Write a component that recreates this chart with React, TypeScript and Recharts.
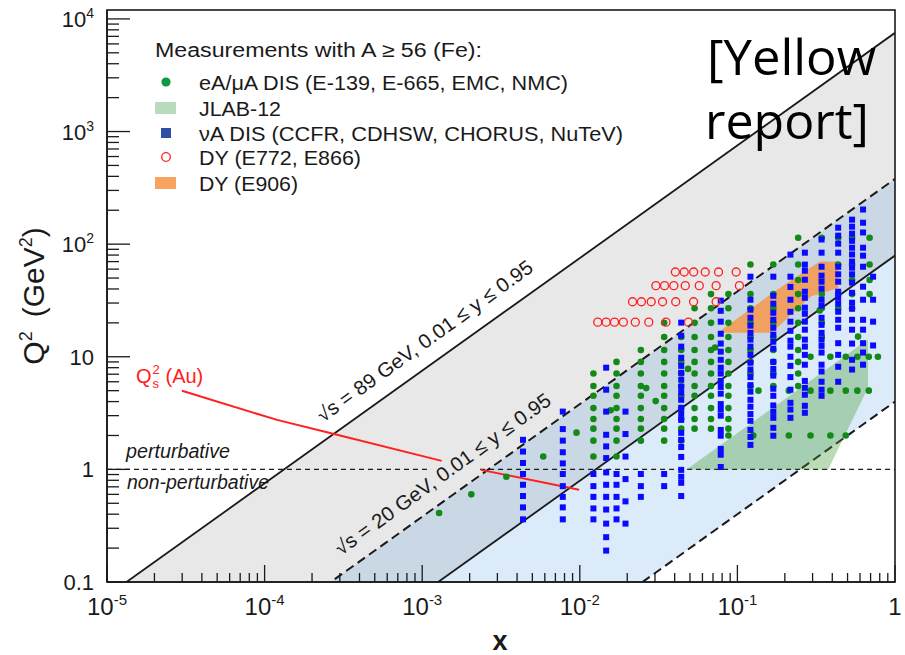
import React from 'react';
import { ComposedChart, XAxis, YAxis, Area, Line, Scatter } from 'recharts';

const FONT = "'Liberation Sans', Arial, Helvetica, sans-serif";

const WIDTH = 905;
const HEIGHT = 655;
// ROOT-like frame, page pixels
const FRAME = { left: 107, top: 10, right: 895, bottom: 582 };

const X_DOMAIN = [1e-5, 1];
const Y_DOMAIN = [0.1, 12000];
const X_DECADES = [1e-5, 1e-4, 1e-3, 1e-2, 1e-1, 1];
const Y_DECADES = [0.1, 1, 10, 100, 1000, 10000];

// kinematic limits Q^2 = x y s, given at x = 1e-5 and x = 1
const EDGE_X = [1e-5, 1];
const EIC_Y95 = [0.0752, 7524]; // sqrt(s) = 89 GeV, y = 0.95
const EIC_Y01 = [0.000792, 79.2]; // sqrt(s) = 89 GeV, y = 0.01
const FT_Y95 = [0.0038, 380]; // sqrt(s) = 20 GeV, y = 0.95
const FT_Y01 = [0.00004, 4]; // sqrt(s) = 20 GeV, y = 0.01

// Q^2 = 1 line, gap under the rotated label
const PERT_X = [1e-5, 0.00112, 0.0017, 0.00233, 1];
const PERT_Q2 = [1, 1, null, 1, 1];

// saturation scale (Au)
const QS_X = [2.99e-5, 1.2e-4, 2.72e-4, 1.33e-3, 1.8e-3, 2.36e-3, 9.9e-3];
const QS_Q2 = [4.99, 2.75, 2.07, 1.19, null, 0.99, 0.66];

// eA / muA DIS, by x column
const DIS_X = [0.0122, 0.0171, 0.0244, 0.0343, 0.044, 0.0535, 0.068, 0.0877, 0.121, 0.169, 0.243, 0.343, 0.436, 0.534, 0.69];
const DIS_Q2 = [
  [7.1, 5.5, 4.5, 3.5, 2.8, 2.3, 1.8, 1.3],
  [9.0, 7.1, 5.5, 4.5, 3.5, 2.8, 2.3, 1.8, 1.3],
  [11.5, 9.0, 7.1, 5.5, 4.5, 3.5, 2.8, 2.3, 1.8],
  [20, 15, 11.5, 9.0, 7.1, 5.5, 4.5, 3.5, 2.8, 2.3, 1.8],
  [15, 11.5, 9.0, 7.1, 5.5, 4.5, 3.5, 2.8, 2.3, 1.8],
  [27, 20, 15, 11.5, 9.0, 7.1, 5.5, 4.5, 3.5, 2.8, 2.3],
  [36, 27, 20, 15, 11.5, 9.0, 7.1, 5.5, 4.5, 3.5, 2.8, 2.3],
  [36, 27, 20, 15, 11.5, 9.0, 7.1, 5.5, 4.5, 3.5, 2.8, 2.3, 2.0],
  [66, 36, 27, 20, 15, 11.5, 9.0, 7.1, 5.5],
  [66, 36, 27, 20, 15, 11.5, 9.0, 7.1, 5.5],
  [114, 66, 48, 36, 27, 20, 15, 11.5, 9.0, 7.1, 5.5],
  [114, 36, 27, 20, 15],
  [114, 66, 36, 27],
  [114, 66, 48, 36, 27],
  [114, 66, 48, 36],
];
// E-139 rows at fixed Q^2
const E139_Q2 = [2, 5, 10];
const E139_X = [
  [0.126, 0.212, 0.291, 0.389, 0.487],
  [0.136, 0.212, 0.291, 0.389, 0.487, 0.577, 0.682],
  [0.291, 0.389, 0.487, 0.577, 0.682, 0.779],
];
// scattered DIS points (E-665 low x etc.)
const DIS_EXTRA_X = [0.00128, 0.00205, 0.00342, 0.00586, 0.00953, 0.0157, 0.0264, 0.0303, 0.0486, 0.0722, 0.333, 0.583];
const DIS_EXTRA_Q2 = [0.41, 0.6, 0.86, 1.3, 2.12, 3.35, 5.27, 4.04, 7.8, 12.1, 25.8, 15.1];

// nu A DIS, by x column
const NU_X = [0.00436, 0.0078, 0.0122, 0.0147, 0.0171, 0.0195, 0.0244, 0.0343, 0.044, 0.0784, 0.121, 0.169, 0.217, 0.268, 0.342, 0.436, 0.534, 0.627, 0.726];
const NU_Q2 = [
  [1.83, 1.44, 1.14, 0.91, 0.73, 0.58, 0.46, 0.36],
  [3.26, 2.28, 1.8, 1.42, 1.13, 0.91, 0.71, 0.57, 0.46, 0.36],
  [0.91, 0.71, 0.57, 0.45, 0.36],
  [8.0, 5.1, 3.26, 2.03, 1.6, 1.26, 0.94, 0.73, 0.57, 0.44, 0.33, 0.25, 0.19],
  [0.91, 0.73, 0.57, 0.45, 0.36],
  [3.26, 2.06, 1.3, 0.82, 0.52, 0.33],
  [0.91, 0.71, 0.57],
  [0.91, 0.71],
  [20.1, 15.4, 12.3, 9.8, 8.3, 7.2, 6.25, 5.4, 4.8, 4.15, 3.52, 3.11, 2.75, 2.11, 1.83, 1.58, 1.29, 0.99, 0.86, 0.76, 0.58],
  [31.5, 25.6, 20.5, 16.0, 13.1, 11.1, 9.4, 8.0, 7.1, 6.1, 5.4, 4.7, 3.8, 3.4, 3.0, 2.24, 1.99, 1.52, 1.35, 1.05],
  [51.4, 32.1, 26.2, 22.2, 18.9, 16.3, 14.2, 12.3, 10.4, 8.85, 7.7, 6.6, 5.6, 4.9, 4.15, 3.6, 3.1, 2.7, 2.24, 1.94, 1.65],
  [51.4, 34.8, 29.6, 24.6, 21.3, 18.1, 15.7, 13.6, 11.8, 9.0, 7.8, 6.8, 5.2, 4.5, 3.7, 3.24, 2.87, 2.34, 1.99],
  [80.7, 51.4, 41.7, 32.1, 25.1, 20.5, 17.0, 13.9, 12.3, 10.0, 8.3, 6.6, 5.1, 3.9, 3.4, 2.87],
  [84, 65.8, 58.1, 48.3, 37.8, 33.4, 27.3, 24.1, 20.5, 17.4, 14.2, 12.3, 10.4, 8.5, 6.1, 5.3, 4.6, 3.67, 3.18],
  [110, 84, 63, 52.5, 46.4, 40.2, 32.1, 28.4, 22.2, 19.2, 16.3, 14.2, 12.5, 10.9, 8.5, 7.4, 6.0, 5.1, 4.5],
  [140, 119, 101, 84, 63, 54, 46.4, 37.8, 33.4, 29.6, 25.1, 21.3, 18.1, 13.2, 10.4, 8.15, 6.0],
  [165, 143, 124, 107, 93, 81, 70, 61.8, 54, 45.5, 37, 30.2, 26.7, 21.3, 17.4, 13.1, 9.4, 7.7],
  [203, 155, 127, 93, 79, 63, 41.9, 32.1, 21.3, 17.4, 13.2, 10.9, 8.5],
  [51.4, 32.1, 20.5, 12.6],
];

// DY E772 / E866, rows at fixed Q^2
const DY_Q2 = [56.6, 42.8, 30.8, 20.3];
const DY_X = [
  [0.0404, 0.046, 0.0528, 0.0625, 0.0759, 0.0982],
  [0.0304, 0.0345, 0.0395, 0.0467, 0.0573, 0.0733, 0.103],
  [0.0216, 0.0246, 0.0284, 0.0335, 0.0406, 0.0527, 0.0733],
  [0.013, 0.0147, 0.0166, 0.0189, 0.0225, 0.0274, 0.0352, 0.0489],
];

// outlines
const E906_X = [0.075, 0.173, 0.247, 0.334, 0.436, 0.436, 0.295, 0.165];
const E906_Q2 = [16.3, 38.1, 53.6, 70.3, 70.3, 40.8, 34.4, 16.3];
const JLAB_X = [0.0475, 0.674, 0.674, 0.377];
const JLAB_Q2 = [1, 14.2, 5.3, 1];

const LEGEND_TITLE = 'Measurements with A \u2265 56 (Fe):';
const LEGEND_LABELS = [
  'eA/\u03bcA DIS (E-139, E-665, EMC, NMC)',
  'JLAB-12',
  '\u03bdA DIS (CCFR, CDHSW, CHORUS, NuTeV)',
  'DY (E772, E866)',
  'DY (E906)',
];

const C = {
  gray: '#e8e8e8',
  blueGray: '#c9d8e4',
  lightBlue: '#dcebf9',
  green: '#138a18',
  blue: '#0a0aff',
  red: '#ff2020',
  orange: '#f0a060',
  jlab: 'rgba(60,150,40,0.34)',
  ink: '#1a1a1a',
};

const minorTicks = (decades: number[], max: number) => {
  const out: number[] = [];
  decades.forEach((d) => {
    for (let m = 1; m < 10; m++) {
      const v = +(d * m).toPrecision(6);
      if (v <= max) out.push(v);
    }
  });
  return out;
};
const X_TICKS = minorTicks(X_DECADES, 1);
const Y_TICKS = minorTicks(Y_DECADES, 12000);
const isMajor = (v: number) => Math.abs(Math.log10(v) - Math.round(Math.log10(v))) < 1e-6;

const band = (lo: number[], hi: number[]) => EDGE_X.map((x, i) => ({ x, band: [lo[i], hi[i]] }));
const edge = (q: number[]) => EDGE_X.map((x, i) => ({ x, q: q[i] }));
const zip = (xs: number[], qs: (number | null)[]) => xs.map((x, i) => ({ x, q: qs[i] }));

const disPoints = [
  ...DIS_X.flatMap((x, i) => DIS_Q2[i].map((q) => ({ x, q }))),
  ...E139_Q2.flatMap((q, i) => E139_X[i].map((x) => ({ x, q }))),
  ...zip(DIS_EXTRA_X, DIS_EXTRA_Q2),
];
const nuPoints = NU_X.flatMap((x, i) => NU_Q2[i].map((q) => ({ x, q })));
const dyPoints = DY_Q2.flatMap((q, i) => DY_X[i].map((x) => ({ x, q })));

const XTick = (props: any) => {
  const { x, y, payload } = props;
  const v = payload.value;
  const major = isMajor(v);
  const e = Math.round(Math.log10(v));
  return (
    <g>
      <line x1={x} x2={x} y1={y} y2={y - (major ? 17 : 9)} stroke={C.ink} strokeWidth={1.3} />
      {major && (
        <text x={x} y={y + 33} textAnchor="middle" fontSize={24} fill={C.ink} fontFamily={FONT}>
          {e === 0 ? '1' : (
            <>
              10<tspan dy={-10} fontSize={15}>{e}</tspan>
            </>
          )}
        </text>
      )}
    </g>
  );
};

const YTick = (props: any) => {
  const { x, y, payload } = props;
  const v = payload.value;
  const major = isMajor(v);
  const e = Math.round(Math.log10(v));
  let label: any = null;
  if (major) {
    if (e === -1) label = '0.1';
    else if (e === 0) label = '1';
    else if (e === 1) label = '10';
    else label = (
      <>
        10<tspan dy={-9} fontSize={14}>{e}</tspan>
      </>
    );
  }
  return (
    <g>
      <line x1={x} x2={x + (major ? 23 : 12)} y1={y} y2={y} stroke={C.ink} strokeWidth={1.3} />
      {major && (
        <text x={x - 13} y={y + 8} textAnchor="end" fontSize={22} fill={C.ink} fontFamily={FONT}>
          {label}
        </text>
      )}
    </g>
  );
};

const Empty = () => <g />;
const outline = (fill: string) => (p: any) => (
  <polygon points={(p.points || []).map((pt: any) => `${pt.x},${pt.y}`).join(' ')} fill={fill} stroke="none" />
);
const dot = (fill: string, r: number) => (p: any) => <circle cx={p.cx} cy={p.cy} r={r} fill={fill} />;
const square = (fill: string, s: number) => (p: any) => (
  <rect x={p.cx - s / 2} y={p.cy - s / 2} width={s} height={s} fill={fill} />
);
const ring = (stroke: string, r: number) => (p: any) => (
  <circle cx={p.cx} cy={p.cy} r={r} fill="none" stroke={stroke} strokeWidth={1.3} />
);

const Overlay = () => {
  const rows = [82, 108, 133, 157, 183];
  const widths = [369, 82, 424, 162, 99];
  return (
    <svg width={WIDTH} height={HEIGHT} style={{ position: 'absolute', left: 0, top: 0, pointerEvents: 'none' }} fontFamily={FONT}>
      <rect x={FRAME.left} y={FRAME.top} width={FRAME.right - FRAME.left} height={FRAME.bottom - FRAME.top} fill="none" stroke={C.ink} strokeWidth={1.6} />

      {/* legend */}
      <text x={155} y={57} fontSize={20} fill={C.ink} textLength={327} lengthAdjust="spacingAndGlyphs">{LEGEND_TITLE}</text>
      <circle cx={166} cy={rows[0]} r={4.6} fill="#0c9a3c" />
      <rect x={155} y={102} width={21} height={12} fill="#b9dbbd" />
      <rect x={161} y={128} width={10} height={10} fill="#2f4ea6" />
      <circle cx={166} cy={rows[3]} r={4.3} fill="none" stroke={C.red} strokeWidth={1.3} />
      <rect x={155} y={177} width={21} height={12} fill="#f8a460" />
      {LEGEND_LABELS.map((t, i) => (
        <text key={t} x={199} y={rows[i] + 7.5} fontSize={20} fill={C.ink} textLength={widths[i]} lengthAdjust="spacingAndGlyphs">{t}</text>
      ))}

      {/* stamp */}
      <text x={707} y={75} fontSize={50} fontFamily="'Open Sans', sans-serif" fill="#000" textLength={169} lengthAdjust="spacingAndGlyphs">[Yellow</text>
      <text x={705} y={139} fontSize={50} fontFamily="'Open Sans', sans-serif" fill="#000" textLength={164} lengthAdjust="spacingAndGlyphs">report]</text>

      {/* annotations */}
      <text x={126} y={458} fontSize={20} fontStyle="italic" fill={C.ink} textLength={104} lengthAdjust="spacingAndGlyphs">perturbative</text>
      <text x={127} y={489} fontSize={20} fontStyle="italic" fill={C.ink} textLength={142} lengthAdjust="spacingAndGlyphs">non-perturbative</text>

      <text x={136} y={383} fontSize={20} fill={C.red}>Q</text>
      <text x={152.5} y={374} fontSize={13} fill={C.red}>2</text>
      <text x={152.5} y={388} fontSize={13} fill={C.red}>s</text>
      <text x={165.5} y={383} fontSize={20} fill={C.red}>(Au)</text>

      <text x={323} y={423} fontSize={20} fill={C.ink} transform="rotate(-35.8 323 423)" textLength={261} lengthAdjust="spacingAndGlyphs">
        {'\u221As = 89 GeV, 0.01 \u2264 y \u2264 0.95'}
      </text>
      <text x={341} y={556} fontSize={20} fill={C.ink} transform="rotate(-35.8 341 556)" textLength={261} lengthAdjust="spacingAndGlyphs">
        {'\u221As = 20 GeV, 0.01 \u2264 y \u2264 0.95'}
      </text>

      {/* axis titles */}
      <text x={500} y={650} textAnchor="middle" fontSize={27} fontWeight="bold" fill={C.ink}>x</text>
      <text transform="translate(44,296) rotate(-90)" textAnchor="middle" fontSize={30} fill={C.ink}>
        Q<tspan dy={-12} fontSize={18}>2</tspan>
        <tspan dx={14} dy={12}>(GeV</tspan>
        <tspan dy={-12} fontSize={18}>2</tspan>
        <tspan dy={12}>)</tspan>
      </text>
    </svg>
  );
};

export default function App() {
  return (
    <div style={{ position: 'absolute', left: 0, top: 0, width: WIDTH, height: HEIGHT, background: '#fff' }}>
      <ComposedChart
        width={WIDTH}
        height={HEIGHT}
        margin={{ top: FRAME.top, right: WIDTH - FRAME.right, bottom: 0, left: 0 }}
      >
        <XAxis
          dataKey="x"
          type="number"
          scale="log"
          domain={X_DOMAIN}
          allowDataOverflow
          ticks={X_TICKS}
          interval={0}
          tickSize={0}
          tickMargin={0}
          tick={(p: any) => <XTick {...p} />}
          axisLine={{ stroke: C.ink, strokeWidth: 1.6 }}
          height={HEIGHT - FRAME.bottom}
        />
        <YAxis
          type="number"
          scale="log"
          domain={Y_DOMAIN}
          allowDataOverflow
          ticks={Y_TICKS}
          interval={0}
          tickSize={0}
          tickMargin={0}
          tick={(p: any) => <YTick {...p} />}
          axisLine={{ stroke: C.ink, strokeWidth: 1.6 }}
          width={FRAME.left}
        />

        <Area data={band(FT_Y95, EIC_Y95)} dataKey="band" type="linear" fill={C.gray} fillOpacity={1} stroke="none" isAnimationActive={false} />
        <Area data={band(EIC_Y01, FT_Y95)} dataKey="band" type="linear" fill={C.blueGray} fillOpacity={1} stroke="none" isAnimationActive={false} />
        <Area data={band(FT_Y01, EIC_Y01)} dataKey="band" type="linear" fill={C.lightBlue} fillOpacity={1} stroke="none" isAnimationActive={false} />

        <Scatter data={zip(E906_X, E906_Q2)} dataKey="q" shape={Empty} line={outline(C.orange)} isAnimationActive={false} />
        <Scatter data={zip(JLAB_X, JLAB_Q2)} dataKey="q" shape={Empty} line={outline(C.jlab)} isAnimationActive={false} />

        <Line data={edge(EIC_Y95)} dataKey="q" type="linear" stroke={C.ink} strokeWidth={1.8} dot={false} activeDot={false} isAnimationActive={false} />
        <Line data={edge(EIC_Y01)} dataKey="q" type="linear" stroke={C.ink} strokeWidth={1.8} dot={false} activeDot={false} isAnimationActive={false} />
        <Line data={edge(FT_Y95)} dataKey="q" type="linear" stroke={C.ink} strokeWidth={2} strokeDasharray="9 5" dot={false} activeDot={false} isAnimationActive={false} />
        <Line data={edge(FT_Y01)} dataKey="q" type="linear" stroke={C.ink} strokeWidth={2} strokeDasharray="9 5" dot={false} activeDot={false} isAnimationActive={false} />
        <Line data={zip(PERT_X, PERT_Q2)} dataKey="q" type="linear" stroke={C.ink} strokeWidth={1.2} strokeDasharray="5 4" dot={false} activeDot={false} isAnimationActive={false} />

        <Scatter data={disPoints} dataKey="q" shape={dot(C.green, 3.3)} isAnimationActive={false} />
        <Scatter data={nuPoints} dataKey="q" shape={square(C.blue, 6)} isAnimationActive={false} />
        <Scatter data={dyPoints} dataKey="q" shape={ring(C.red, 4)} isAnimationActive={false} />

        <Line data={zip(QS_X, QS_Q2)} dataKey="q" type="linear" stroke={C.red} strokeWidth={2} dot={false} activeDot={false} isAnimationActive={false} />
      </ComposedChart>
      <Overlay />
    </div>
  );
}
